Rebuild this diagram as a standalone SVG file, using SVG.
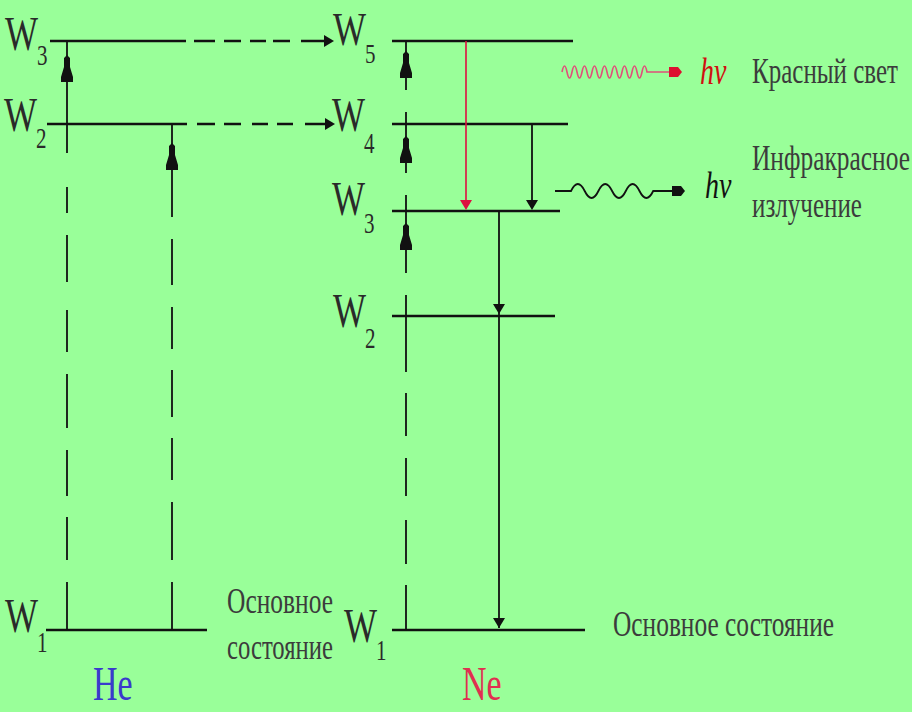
<svg xmlns="http://www.w3.org/2000/svg" xmlns:xlink="http://www.w3.org/1999/xlink" width="912" height="712" viewBox="0 0 912 712">
<style>
.lvl{stroke:#111;stroke-width:2.6;fill:none}
.vt{stroke:#111;stroke-width:1.8;fill:none}
.red{stroke:#dd1040;stroke-width:1.6;fill:none}
.t{font-family:"Liberation Serif","Times New Roman",serif;fill:#2a2a2a}
.W{font-size:35px}
.s{font-size:21px}
.lab{font-size:25px;fill:#3c3c3c}
.hv{font-size:28px;font-style:italic}
</style>
<defs>
<path id="up" d="M0,0 L3,3 L3,12 L6,22 L6,27 L-6,27 L-6,22 L-3,12 L-3,3 Z" fill="#111"/>
<path id="dn" d="M-6,-10 H6 L0,0 Z"/>
<path id="rt" d="M-10,-6 L0,0 L-10,6 Z" fill="#111"/>
<path id="ph" d="M-13,-5 L-4,-5 L0,0 L-4,5 L-13,5 Z"/>
</defs>
<rect width="912" height="712" fill="#99ff99"/>

<!-- He levels -->
<g id="he-w3">
<line class="lvl" x1="50" y1="41" x2="186" y2="41"/>
<text class="t W" transform="translate(5,50) scale(1,1.4)">W<tspan class="s" dx="-1" dy="11">3</tspan></text>
</g>
<g id="he-w2">
<line class="lvl" x1="47" y1="124" x2="187" y2="124"/>
<text class="t W" transform="translate(4,131) scale(1,1.4)">W<tspan class="s" dx="-1" dy="12">2</tspan></text>
</g>
<g id="he-w1">
<line class="lvl" x1="46" y1="630" x2="207" y2="630"/>
<text class="t W" transform="translate(5,632) scale(1,1.4)">W<tspan class="s" dx="-1" dy="14">1</tspan></text>
<text class="t lab" transform="translate(227,613) scale(1,1.4)" textLength="106" lengthAdjust="spacingAndGlyphs">Основное</text>
<text class="t lab" transform="translate(227,659) scale(1,1.4)" textLength="106" lengthAdjust="spacingAndGlyphs">состояние</text>
</g>
<g id="he-label">
<text class="t" font-size="34" style="fill:#3a3acc" transform="translate(93,700) scale(1,1.45)">He</text>
</g>

<!-- Ne levels -->
<g id="ne-w5">
<line class="lvl" x1="392" y1="41" x2="573" y2="41"/>
<text class="t W" transform="translate(333,45) scale(1,1.35)">W<tspan class="s" dx="-1" dy="13">5</tspan></text>
</g>
<g id="ne-w4">
<line class="lvl" x1="392" y1="124" x2="568" y2="124"/>
<text class="t W" transform="translate(332,131) scale(1,1.4)">W<tspan class="s" dx="-1" dy="16">4</tspan></text>
</g>
<g id="ne-w3">
<line class="lvl" x1="392" y1="211" x2="560" y2="211"/>
<text class="t W" transform="translate(332,215) scale(1,1.4)">W<tspan class="s" dx="-1" dy="13">3</tspan></text>
</g>
<g id="ne-w2">
<line class="lvl" x1="392" y1="316" x2="555" y2="316"/>
<text class="t W" transform="translate(333,327) scale(1,1.4)">W<tspan class="s" dx="-1" dy="15">2</tspan></text>
</g>
<g id="ne-w1">
<line class="lvl" x1="392" y1="630" x2="585" y2="630"/>
<text class="t W" transform="translate(344,642) scale(1,1.4)">W<tspan class="s" dx="-1" dy="13">1</tspan></text>
<text class="t lab" transform="translate(613,636) scale(1,1.4)" textLength="221" lengthAdjust="spacingAndGlyphs">Основное состояние</text>
</g>
<g id="ne-label">
<text class="t" font-size="34" style="fill:#e03050" transform="translate(462,700) scale(1,1.45)">Ne</text>
</g>

<!-- emission labels -->
<g id="red-light">
<text class="t hv" style="fill:#d01010" transform="translate(700,84) scale(1,1.35)">hν</text>
<text class="t lab" transform="translate(752,83) scale(1,1.4)" textLength="146" lengthAdjust="spacingAndGlyphs">Красный свет</text>
</g>
<g id="ir-light">
<text class="t hv" style="fill:#111" transform="translate(705,198) scale(1,1.35)">hν</text>
<text class="t lab" transform="translate(752,170) scale(1,1.4)" textLength="158" lengthAdjust="spacingAndGlyphs">Инфракрасное</text>
<text class="t lab" transform="translate(752,217) scale(1,1.4)" textLength="110" lengthAdjust="spacingAndGlyphs">излучение</text>
</g>

<!-- connectors -->
<g id="connectors">
<path class="lvl" d="M194,41H215M224,41H241M250,41H266M273,41H290M301,41H325"/>
<use xlink:href="#rt" href="#rt" transform="translate(334,41)"/>
<path class="lvl" d="M197,124H215M224,124H241M252,124H268M277,124H293M305,124H325"/>
<use xlink:href="#rt" href="#rt" transform="translate(335,124)"/>

<path class="vt" d="M67,41V153M67,187V213M67,235V282M67,310V352M67,374V428M67,450V496M67,517V560M67,582V630"/>
<use xlink:href="#up" href="#up" transform="translate(67,55)"/>
<path class="vt" d="M172,124V217M172,239V285M172,307V349M172,370V417M172,438V480M172,502V560M172,582V630"/>
<use xlink:href="#up" href="#up" transform="translate(172,143)"/>

<path class="vt" d="M406,41V90M406,112V173M406,195V273M406,295V372M406,393V436M406,458V496M406,520V564M406,585V630"/>
<use xlink:href="#up" href="#up" transform="translate(406,51)"/>
<use xlink:href="#up" href="#up" transform="translate(406,136)"/>
<use xlink:href="#up" href="#up" transform="translate(406,223)"/>

<line class="red" x1="466" y1="41" x2="466" y2="202"/>
<use xlink:href="#dn" href="#dn" fill="#dd1040" transform="translate(466,210)"/>
<line class="vt" x1="532" y1="124" x2="532" y2="202"/>
<use xlink:href="#dn" href="#dn" fill="#111" transform="translate(532,210)"/>
<line class="vt" x1="499" y1="211" x2="499" y2="628"/>
<use xlink:href="#dn" href="#dn" fill="#111" transform="translate(499,314)"/>
<use xlink:href="#dn" href="#dn" fill="#111" transform="translate(499,628)"/>

<path d="M562,72 q2.5,-12 5,0 t5,0 t5,0 t5,0 t5,0 t5,0 t5,0 t5,0 t5,0 t5,0 t5,0 t5,0 t5,0 t5,0 t5,0 t5,0 t5,0 L670,72" stroke="#e0507a" stroke-width="1.6" fill="none"/>
<use xlink:href="#ph" href="#ph" fill="#dd1030" transform="translate(682,72)"/>
<path d="M555,191 H571 q6.8,-14 13.7,0 t13.7,0 t13.7,0 t13.7,0 t13.7,0 t13.7,0 H672" stroke="#111" stroke-width="1.8" fill="none"/>
<use xlink:href="#ph" href="#ph" fill="#111" transform="translate(685,191)"/>
</g>
</svg>
